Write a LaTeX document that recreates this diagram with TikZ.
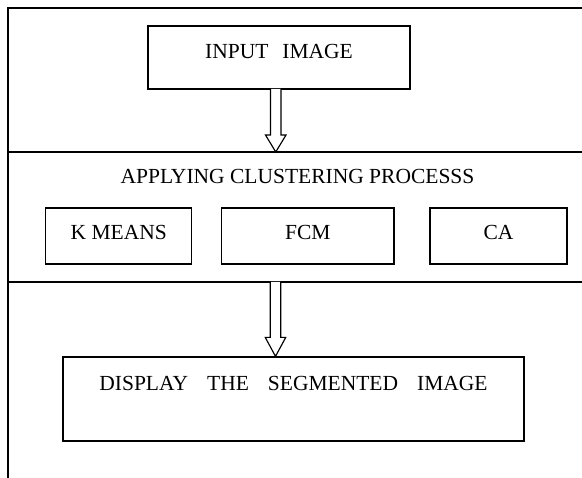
\documentclass[tikz,border=0pt]{standalone}
\usepackage{fontspec}
\setmainfont{Liberation Serif}
\usetikzlibrary{positioning, calc}
\tikzset{
  stagebox/.style   = {draw, line width=1.25pt, inner sep=0pt, text height=14.5pt,
                       font=\fontsize{21.5}{25}\selectfont},
  widegap/.style    = {execute at begin node={\spaceskip=#1\relax}},
  methodbox/.style  = {stagebox, minimum height=56pt, text depth=7.9pt},
  framerule/.style  = {line width=1.35pt},
  hollowarrow/.style = {line width=1.15pt, fill=white, line join=miter}
}
% hollow block arrow pointing down: top, tip, head length
\newcommand{\blockdown}[3]{%
  \draw[hollowarrow] ($(#1)+(-5.25,0)$) -- ($(#2)+(-5.25,-#3)$)
    -- ($(#2)+(-10.25,-#3)$) -- (#2) -- ($(#2)+(10.25,-#3)$)
    -- ($(#2)+(5.25,-#3)$) -- ($(#1)+(5.25,0)$);}
\begin{document}
\begin{tikzpicture}[x=1pt, y=-1pt]
  \useasboundingbox (0,0) rectangle (582,478);

  % frame and band rules
  \coordinate (frametl) at (8,8);
  \coordinate (band1w)  at (8,152);
  \coordinate (band2w)  at (8,282);
  \draw[framerule] (582,8) -- (frametl) -- (8,478);
  \draw[framerule] (band1w) -- (582,152);
  \draw[framerule] (band2w) -- (582,282);

  \node[stagebox, widegap=14pt, minimum width=262pt, minimum height=63pt, text depth=11.5pt]
        (inp) at (279,57.5) {INPUT IMAGE};

  \node[anchor=base, font=\fontsize{21.5}{25}\selectfont] (clust) at (297.5,184)
        {APPLYING CLUSTERING PROCESSS};
  \node[methodbox, minimum width=146pt]   (kmeans) at (118.7,236) {K MEANS};
  \node[methodbox, minimum width=172.3pt] (fcm)    at (307.9,236) {FCM};
  \node[methodbox, minimum width=137pt]   (ca)     at (498.5,236) {CA};

  \node[stagebox, widegap=19pt, minimum width=461pt, minimum height=84pt, text depth=31.1pt]
        (disp) at (293.5,399) {DISPLAY THE SEGMENTED IMAGE};

  % arrows between the stages
  \coordinate (a1top) at (275.75,89);
  \coordinate (a1tip) at (a1top |- band1w);
  \coordinate (a2top) at (275.5,282);
  \coordinate (a2tip) at (a2top |- disp.north);
  \blockdown{a1top}{a1tip}{17}
  \blockdown{a2top}{a2tip}{19}
\end{tikzpicture}
\end{document}
